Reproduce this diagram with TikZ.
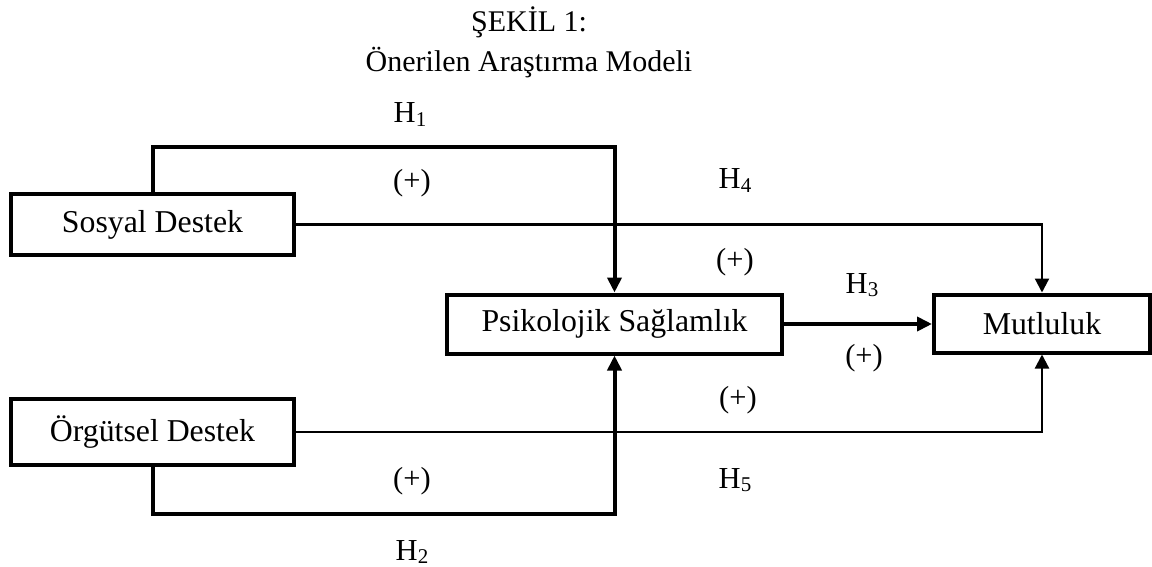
\documentclass[tikz,border=0pt]{standalone}
\usepackage{fontspec}
\setmainfont{Liberation Serif}
\usetikzlibrary{arrows.meta}
% hypothesis label: H with a lowered digit
\newcommand\hyp[1]{H\raisebox{-0.1em}{\fontsize{21}{21}\selectfont #1}}
\begin{document}
\begin{tikzpicture}[x=1pt,y=-1pt,
  box/.style={draw,line width=4pt,inner sep=0pt,
    font=\fontsize{31.8}{36}\selectfont},
  lab/.style={inner sep=0pt,font=\fontsize{30.5}{34}\selectfont},
  ttl/.style={inner sep=0pt,anchor=base,font=\fontsize{30}{34}\selectfont},
  strong/.style={line width=4pt,-{Triangle[length=15pt,width=14pt]}},
  weak/.style={line width=2.2pt,-{Triangle[length=14pt,width=14pt]}}]
\useasboundingbox (0,0) rectangle (1152,567);

% title
\node[ttl] (t1) at (529,32) {ŞEKİL 1:};
\node[ttl] (t2) at (529,72) {Önerilen Araştırma Modeli};

% constructs
\node[box,minimum width=283pt,minimum height=61pt] (sos) at (152.5,224.5) {Sosyal Destek};
\node[box,minimum width=283pt,minimum height=66pt] (org) at (152.5,432) {Örgütsel Destek};
\node[box,minimum width=335pt,minimum height=59pt] (psi) at (614.5,324) {Psikolojik Sağlamlık};
\node[box,minimum width=216pt,minimum height=58pt] (mut) at (1042,323.5) {Mutluluk};

% bends of the H1 and H2 paths
\coordinate (c1) at (614.5,147);
\coordinate (c2) at (614.5,514);

% paths
\draw[strong] (sos.north) |- (c1) -- (psi.north);
\draw[strong] (org.south) |- (c2) -- (psi.south);
\draw[strong] (psi.east) -- (psi.east -| mut.west);
\draw[weak] (sos.east) -| (mut.north);
\draw[weak] (org.east) -| (mut.south);

% path labels
\node[lab,anchor=base] (h1) at (410,123) {\hyp{1}};
\node[lab] (p1) at (412,183) {(+)};
\node[lab,anchor=base] (h4) at (735,189) {\hyp{4}};
\node[lab] (p4) at (735,262) {(+)};
\node[lab,anchor=base] (h3) at (862,293) {\hyp{3}};
\node[lab] (p3) at (864,358) {(+)};
\node[lab] (p5) at (738,400) {(+)};
\node[lab,anchor=base] (h5) at (735,488) {\hyp{5}};
\node[lab] (p2) at (412,481) {(+)};
\node[lab,anchor=base] (h2) at (412,560) {\hyp{2}};
\end{tikzpicture}
\end{document}
